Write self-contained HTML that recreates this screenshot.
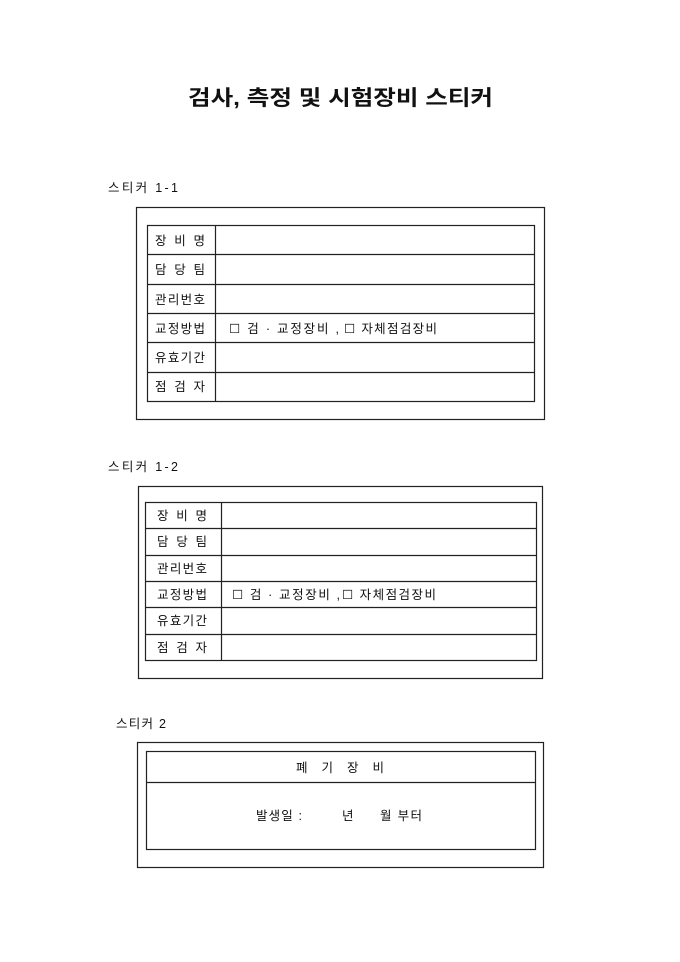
<!DOCTYPE html>
<html><head><meta charset="utf-8"><style>
html,body{margin:0;padding:0;background:#fff;}
svg{display:block;}
text{font-family:"Liberation Sans","Noto Sans CJK KR",sans-serif;fill:#111;}
</style></head><body>
<svg width="680" height="962" viewBox="0 0 680 962" xmlns="http://www.w3.org/2000/svg">
<text x="188" y="105" font-size="21" font-weight="bold" textLength="305" lengthAdjust="spacingAndGlyphs">검사, 측정 및 시험장비 스티커</text>

<!-- Sticker 1-1 -->
<text x="108" y="192" font-size="12.5" textLength="70">스티커 1-1</text>
<g fill="none" stroke="#222" stroke-width="1.2">
<rect x="136.5" y="207.5" width="408" height="212"/>
<rect x="147.5" y="225.5" width="387" height="176"/>
<line x1="215.5" y1="225.5" x2="215.5" y2="401.5"/>
<line x1="147.5" y1="254.5" x2="534.5" y2="254.5"/>
<line x1="147.5" y1="284.5" x2="534.5" y2="284.5"/>
<line x1="147.5" y1="313.5" x2="534.5" y2="313.5"/>
<line x1="147.5" y1="342.5" x2="534.5" y2="342.5"/>
<line x1="147.5" y1="372.5" x2="534.5" y2="372.5"/>
</g>
<g font-size="12.5">
<text x="155" y="245" textLength="50">장 비 명</text>
<text x="155" y="274" textLength="50">담 당 팀</text>
<text x="155" y="304" textLength="50">관리번호</text>
<text x="155" y="333" textLength="50">교정방법</text>
<text x="155" y="362" textLength="50">유효기간</text>
<text x="155" y="391" textLength="50">점 검 자</text>
<text x="229" y="333" textLength="110">☐ 검 · 교정장비 ,</text>
<text x="344" y="333" textLength="93">☐ 자체점검장비</text>
</g>

<!-- Sticker 1-2 -->
<text x="108" y="471" font-size="12.5" textLength="70">스티커 1-2</text>
<g fill="none" stroke="#222" stroke-width="1.2">
<rect x="138.5" y="486.5" width="404" height="192"/>
<rect x="145.5" y="502.5" width="391" height="158"/>
<line x1="221.5" y1="502.5" x2="221.5" y2="660.5"/>
<line x1="145.5" y1="528.5" x2="536.5" y2="528.5"/>
<line x1="145.5" y1="555.5" x2="536.5" y2="555.5"/>
<line x1="145.5" y1="581.5" x2="536.5" y2="581.5"/>
<line x1="145.5" y1="607.5" x2="536.5" y2="607.5"/>
<line x1="145.5" y1="634.5" x2="536.5" y2="634.5"/>
</g>
<g font-size="12.5">
<text x="157" y="520" textLength="50">장 비 명</text>
<text x="157" y="546" textLength="50">담 당 팀</text>
<text x="157" y="573" textLength="50">관리번호</text>
<text x="157" y="599" textLength="50">교정방법</text>
<text x="157" y="625" textLength="50">유효기간</text>
<text x="157" y="652" textLength="50">점 검 자</text>
<text x="232" y="599" textLength="108">☐ 검 · 교정장비 ,</text>
<text x="342" y="599" textLength="94">☐ 자체점검장비</text>
</g>

<!-- Sticker 2 -->
<text x="116" y="728" font-size="12.5" textLength="50">스티커 2</text>
<g fill="none" stroke="#222" stroke-width="1.2">
<rect x="137.5" y="742.5" width="406" height="125"/>
<rect x="146.5" y="751.5" width="389" height="98"/>
<line x1="146.5" y1="782.5" x2="535.5" y2="782.5"/>
</g>
<g font-size="12.5">
<text x="296" y="772" textLength="88">폐 기 장 비</text>
<text x="256" y="820" textLength="46">발생일 :</text>
<text x="342" y="820">년</text>
<text x="380" y="820" textLength="42">월 부터</text>
</g>
</svg>
</body></html>
